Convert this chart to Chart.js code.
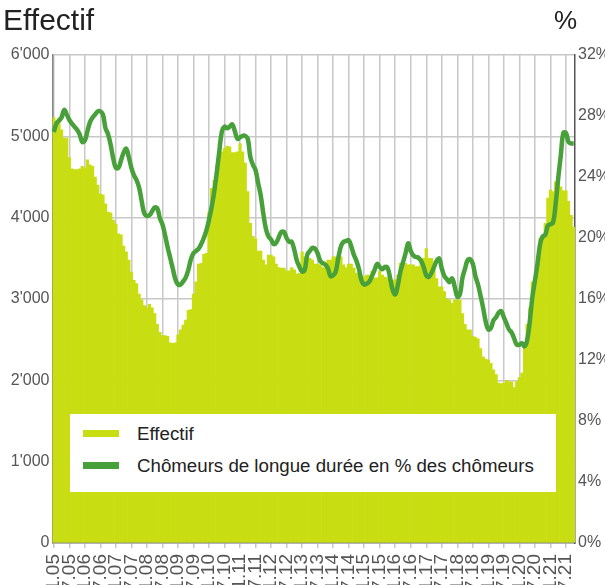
<!DOCTYPE html>
<html>
<head>
<meta charset="utf-8">
<script src="https://cdn.jsdelivr.net/npm/chart.js@4/dist/chart.umd.min.js"></script>
<style>
  html, body { margin: 0; padding: 0; background: #fff; overflow: hidden; }
  #wrap { position: relative; width: 605px; height: 585px; overflow: hidden; font-family: "Liberation Sans", Arial, sans-serif; }
  #c { position: absolute; left: 0; top: 0; }
  .ttl { position: absolute; color: #222; white-space: nowrap; }
  #legend { position: absolute; left: 70px; top: 414px; width: 486px; height: 78px; background: #fff; }
  .li { position: absolute; left: 13px; height: 22px; font-size: 18.7px; color: #222; white-space: nowrap; }
  .sw { display: inline-block; width: 36px; height: 7px; vertical-align: middle; margin-right: 18px; position: relative; top: -2px; }
</style>
</head>
<body>
<div id="wrap">
  <canvas id="c" width="605" height="585"></canvas>
  <div class="ttl" style="left:3px; top:3px; font-size:30px;">Effectif</div>
  <div class="ttl" style="left:554px; top:5px; font-size:26px;">%</div>
  <div id="legend">
    <div class="li" style="top:9px;"><span class="sw" style="background:#c8de12"></span>Effectif</div>
    <div class="li" style="top:41px;"><span class="sw" style="background:#48a03a"></span>Chômeurs de longue durée en % des chômeurs</div>
  </div>
</div>
<script>
// Monthly series starting January 2005 (index 0) to October 2021
const startYear = 2005;
const startMonth = 1;

// Effectif (left axis), one value per month
const effectif = [
  5230,5180,5225,5080,4980,4980,4740,4600,4590,4590,4600,4630,
  4610,4710,4650,4630,4500,4400,4290,4280,4170,4070,4060,3970,
  3920,3800,3790,3650,3580,3480,3330,3230,3190,3060,2990,2920,
  2890,2935,2890,2820,2690,2590,2550,2550,2540,2460,2455,2460,
  2560,2620,2680,2740,2860,2870,3060,3210,3430,3440,3550,3560,
  4070,4360,4460,4630,4750,4810,4850,4880,4870,4800,4800,4810,
  4910,4810,4670,4320,3930,3770,3740,3590,3590,3480,3420,3540,
  3540,3520,3430,3385,3380,3380,3345,3345,3385,3360,3310,3315,
  3580,3520,3520,3500,3480,3430,3430,3420,3385,3385,3480,3480,
  3520,3520,3520,3520,3420,3385,3430,3430,3380,3320,3300,3275,
  3275,3295,3295,3340,3260,3260,3340,3295,3270,3260,3260,3234,
  3240,3295,3440,3440,3440,3420,3420,3420,3400,3400,3500,3500,
  3620,3500,3500,3380,3250,3150,3150,3090,3000,2990,2950,2990,
  2990,2990,2820,2690,2620,2620,2540,2530,2510,2390,2290,2260,
  2250,2210,2130,2070,1965,1960,1965,2000,1985,1980,1910,1985,
  2035,2090,2390,2690,2890,3210,3220,3520,3750,3750,3930,4240,
  4340,4320,4440,4430,4380,4330,4330,4200,4030,3880
];

// Chômeurs de longue durée en % des chômeurs (right axis), one value per month
const pctLongue = [
  26.95,27.5,27.7,27.9,28.4,28.1,27.75,27.5,27.3,27.1,26.8,26.3,
  26.4,27.0,27.6,27.9,28.1,28.3,28.3,28.1,27.2,26.8,26.1,25.2,
  24.6,24.6,25.1,25.6,25.85,25.3,24.6,24.1,23.8,23.3,22.4,21.6,
  21.45,21.5,21.75,22.0,21.95,21.3,20.9,20.2,19.4,18.7,18.0,17.3,
  16.95,16.95,17.15,17.4,17.9,18.6,19.0,19.15,19.3,19.6,20.0,20.5,
  21.2,22.0,23.0,24.3,25.7,27.0,27.3,27.2,27.3,27.45,27.0,26.5,
  26.6,26.7,26.7,26.5,25.3,24.8,24.45,23.6,22.8,21.6,20.6,20.1,
  19.9,19.6,19.7,20.05,20.4,20.4,20.0,19.75,19.75,19.2,18.5,18.1,
  17.8,17.9,18.9,19.15,19.35,19.3,19.0,18.5,18.35,18.25,18.0,17.5,
  17.55,17.8,18.7,19.45,19.75,19.8,19.85,19.45,18.9,18.5,17.95,17.2,
  16.95,17.0,17.15,17.5,17.9,18.3,18.1,17.95,18.1,18.05,17.4,16.6,
  16.3,16.9,17.8,18.4,19.0,19.65,19.15,18.85,18.75,18.7,18.5,18.1,
  17.55,17.45,17.7,18.1,18.5,18.65,18.0,17.5,17.3,17.1,17.35,16.8,
  16.15,16.3,17.4,18.0,18.55,18.6,18.3,17.5,16.95,16.2,15.4,14.5,
  14.0,14.1,14.6,14.8,15.1,15.2,14.8,14.4,14.0,13.8,13.4,13.0,
  13.0,13.1,12.9,13.3,14.5,16.1,17.2,18.3,19.6,20.1,20.2,20.8,
  20.9,21.0,22.2,23.9,25.4,26.9,26.9,26.3,26.2,26.2
];

// Months whose labels are shown on the x axis
const shownMonths = [1, 7];

// Category labels "M.YY"
const categories = effectif.map((_, i) => {
  const m = (startMonth - 1 + i) % 12 + 1;
  const y = startYear + Math.floor((startMonth - 1 + i) / 12);
  return m + '.' + String(y % 100).padStart(2, '0');
});

const tickFont = { family: '"Liberation Sans", Arial, sans-serif', size: 16 };
const xTickFont = { family: '"Liberation Sans", Arial, sans-serif', size: 19 };
const tickColor = '#555';

new Chart(document.getElementById('c'), {
  type: 'bar',
  data: {
    labels: categories,
    datasets: [
      {
        type: 'line',
        label: 'Chômeurs de longue durée en % des chômeurs',
        data: pctLongue,
        yAxisID: 'y1',
        borderColor: '#48a03a',
        backgroundColor: '#48a03a',
        borderWidth: 4.5,
        pointRadius: 0,
        tension: 0.4,
        order: 0
      },
      {
        type: 'bar',
        label: 'Effectif',
        data: effectif,
        yAxisID: 'y',
        backgroundColor: '#c8de12',
        borderWidth: 0,
        barPercentage: 1,
        categoryPercentage: 1,
        order: 1
      }
    ]
  },
  options: {
    responsive: false,
    animation: false,
    layout: { padding: { top: 55, left: 0, right: 0, bottom: 0 } },
    plugins: { legend: { display: false }, tooltip: { enabled: false } },
    scales: {
      x: {
        offset: true,
        grid: {
          offset: false,
          color: '#c8c8c8',
          lineWidth: 1.5,
          tickLength: 5,
          drawOnChartArea: true
        },
        border: { color: '#888', width: 1.5 },
        ticks: {
          autoSkip: false,
          minRotation: 90,
          maxRotation: 90,
          padding: 6,
          color: tickColor,
          font: xTickFont,
          callback: function (v, i) {
            const lab = categories[i];
            const m = parseInt(lab.split('.')[0], 10);
            return shownMonths.includes(m) ? lab : null;
          }
        },
        afterFit: s => { s.height = 42; }
      },
      y: {
        position: 'left',
        min: 0, max: 6000,
        ticks: {
          stepSize: 1000,
          color: tickColor,
          font: tickFont,
          padding: 3,
          callback: v => v === 0 ? '0' : (v / 1000) + "'000"
        },
        grid: { color: '#c8c8c8', lineWidth: 1.5, drawTicks: false },
        border: { color: '#888', width: 1.5 },
        afterFit: s => { s.width = 52.5; }
      },
      y1: {
        position: 'right',
        min: 0, max: 32,
        ticks: {
          stepSize: 4,
          color: tickColor,
          font: tickFont,
          padding: 3,
          callback: v => v + '%'
        },
        grid: { drawOnChartArea: false, drawTicks: false },
        border: { color: '#555', width: 1.5 },
        afterFit: s => { s.width = 30; }
      }
    }
  }
});
</script>
</body>
</html>
